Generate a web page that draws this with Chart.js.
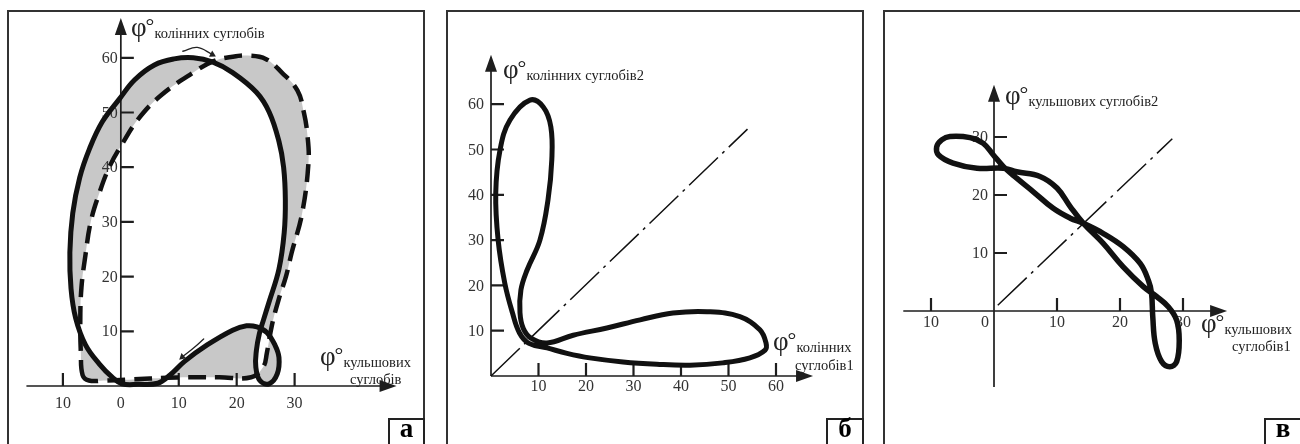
<!DOCTYPE html>
<html>
<head>
<meta charset="utf-8">
<script src="https://cdn.jsdelivr.net/npm/chart.js@4.4.1/dist/chart.umd.min.js"></script>
<style>
  html, body { margin: 0; padding: 0; background: #fff; }
  body { position: relative; width: 1300px; height: 444px; overflow: hidden; }
  canvas { position: absolute; top: 0; }
  .frame { position: absolute; top: 10px; height: 450px; box-sizing: border-box; border: 2px solid #333; }
  .ttl { position: absolute; font-family: "Liberation Serif", serif; color: #222; white-space: nowrap; line-height: 1; z-index: 2; }
  .phi { font-size: 27px; }
  .deg { font-size: 22px; position: relative; top: -3px; margin-left: -1px; }
  .sub { font-size: 14.5px; position: relative; top: 2px; }
  .letter { position: absolute; top: 418px; height: 34px; box-sizing: border-box; border: 2px solid #222; background: #fff;
            font-family: "Liberation Serif", serif; font-weight: bold; font-size: 27px; text-align: center; line-height: 17px; z-index: 3; }
</style>
</head>
<body>
<div class="frame" style="left:7px;width:418px"></div>
<div class="frame" style="left:446px;width:418px"></div>
<div class="frame" style="left:883px;width:419px"></div>

<canvas id="chartA" width="440" height="444" style="left:0"></canvas>
<canvas id="chartB" width="440" height="444" style="left:440px"></canvas>
<canvas id="chartC" width="430" height="444" style="left:870px"></canvas>

<div class="ttl" style="left:131px;top:14px"><span class="phi">φ</span><span class="deg">°</span><span class="sub">колінних суглобів</span></div>
<div class="ttl" style="left:320px;top:343px"><span class="phi">φ</span><span class="deg">°</span><span class="sub">кульшових</span></div>
<div class="ttl" style="left:350px;top:369px"><span class="sub">суглобів</span></div>

<div class="ttl" style="left:503px;top:56px"><span class="phi">φ</span><span class="deg">°</span><span class="sub">колінних суглобів2</span></div>
<div class="ttl" style="left:773px;top:328px"><span class="phi">φ</span><span class="deg">°</span><span class="sub">колінних</span></div>
<div class="ttl" style="left:795px;top:355px"><span class="sub">суглобів1</span></div>

<div class="ttl" style="left:1005px;top:82px"><span class="phi">φ</span><span class="deg">°</span><span class="sub">кульшових суглобів2</span></div>
<div class="ttl" style="left:1201px;top:310px"><span class="phi">φ</span><span class="deg">°</span><span class="sub">кульшових</span></div>
<div class="ttl" style="left:1232px;top:336px"><span class="sub">суглобів1</span></div>

<div class="letter" style="left:388px;width:37px">а</div>
<div class="letter" style="left:826px;width:38px">б</div>
<div class="letter" style="left:1264px;width:38px">в</div>

<script>
// --- панель а: кульшові (x) / колінні (y) суглоби
const solidAX = [0.2, 3, 6.4, 8.5, 11, 14.9, 19.3, 21.7, 23.5, 25.2, 26.6, 27.3, 27, 25.6, 24, 23.3, 23.4, 23.9, 24.6, 25.6, 27.3, 28.2, 28.4, 28.1, 27.3, 25.6, 23.4, 19.3, 15.9, 12.5, 9.2, 5.8, 2.4, -0.3, -3.2, -5.4, -7.1, -8.3, -8.8, -8.6, -7.8, -6.1, -3.7, -1.5];
const solidAY = [0.4, 0.3, 0.5, 2, 4.5, 7.5, 10.2, 11, 10.8, 9.8, 7.5, 5.2, 2.2, 0.4, 1, 3.5, 6.5, 9.5, 12, 15.4, 21.4, 28, 34, 40, 44.7, 50.1, 53.7, 57.3, 59.2, 60, 59.8, 58.7, 56, 52.4, 48.3, 43.4, 38.1, 31.6, 24.4, 17.8, 12.4, 7.5, 4, 1.6];
const dashedAX = [-6.6, -5.5, -3, 2, 8, 11.5, 17, 22.5, 24.6, 25.2, 26.1, 27.3, 28.5, 29.5, 31.3, 32.4, 32.2, 31.6, 30.5, 27.8, 25, 22, 19.3, 16, 12.5, 6.9, 3, 0.2, -2, -3.8, -5.2, -6.1, -6.8, -7, -6.9];
const dashedAY = [2, 1, 1, 1.2, 1.5, 1.6, 1.6, 1.6, 3.5, 6, 11.2, 16, 20, 24.4, 31.6, 41, 46, 50, 54, 57.3, 59.8, 60.4, 60.2, 59.4, 57.3, 53.1, 48.8, 44.2, 40, 35, 30, 24, 18, 12, 6];
const arrowTopX = [10.7, 13.2, 15.8];
const arrowTopY = [61.2, 61.9, 60.6];
const arrowLowX = [14.3, 12.5, 10.6];
const arrowLowY = [8.6, 6.9, 5.3];
const xLabelsA = [-10, 0, 10, 20, 30];
const xMarksA = [-10, 10, 20, 30];
const yLabelsA = [10, 20, 30, 40, 50, 60];

// --- панель б: колінні суглоби 1 / 2
const loopBX = [11.8, 16, 20.8, 27.8, 34.9, 41.9, 48.8, 54.5, 57.7, 57.9, 56.6, 52.4, 45.5, 38.3, 31.4, 24.4, 17.3, 11.8, 8.5, 6.8, 6.1, 6.3, 7.6, 10.3, 12, 12.8, 12.6, 11, 8.2, 4, 1.9, 1, 1.5, 2.9, 4.5, 6, 8];
const loopBY = [6.2, 5, 4, 3.1, 2.6, 2.4, 2.9, 4, 5.7, 7.3, 10.2, 13.1, 14.2, 13.9, 12.4, 10.6, 9, 7.3, 8.3, 10.5, 14, 19, 23.4, 30, 38.9, 47.7, 55, 59.4, 60.9, 56.5, 49.9, 40.4, 30, 20.5, 14, 9.5, 7.2];
const diagBX = [0, 54];
const diagBY = [0, 54.5];
const xLabelsB = [10, 20, 30, 40, 50, 60];
const yLabelsB = [10, 20, 30, 40, 50, 60];

// --- панель в: кульшові суглоби 1 / 2
const loopCX = [-7.0, -3.8, -1.7, -0.1, 1.5, 3.6, 6.2, 9.4, 12.1, 14.2, 17.3, 20.5, 23.2, 24.5, 25.0, 25.2, 25.6, 26.6, 27.9, 29.0, 29.4, 29.0, 27.7, 25.8, 23.7, 20.5, 17.3, 14.2, 12.1, 10.0, 7.3, 3.6, 1.5, -2.7, -6.5, -8.8, -9.1, -8.3];
const loopCY = [30.1, 29.9, 28.9, 26.9, 24.9, 22.9, 20.6, 17.7, 16.0, 15.1, 13.4, 11.1, 8.2, 5.3, 3.1, -1.0, -5.6, -8.7, -9.6, -8.7, -5.0, -1.6, 0.7, 2.5, 4.2, 7.6, 11.7, 15.1, 18.0, 21.2, 23.2, 24.0, 24.6, 24.6, 25.5, 26.9, 28.3, 29.5];
const diagCX = [0.6, 28.3];
const diagCY = [1.0, 29.7];
const xLabelsC = [-10, 0, 10, 20, 30];
const xMarksC = [-10, 10, 20, 30];
const yLabelsC = [10, 20, 30];

function pts(xs, ys) {
    return xs.map((x, i) => ({ x: x, y: ys[i] }));
}

// осі зі стрілками, засічки, підписи, та сіра смуга між двома замкненими кривими
const axesPlugin = {
    id: 'axesDraw',
    afterDatasetsUpdate(chart) {
        chart.data.datasets.forEach((ds, i) => {
            if (!ds.closed) return;
            const line = chart.getDatasetMeta(i).dataset;
            line._loop = true;
            line._fullLoop = true;
            line._pointsUpdated = false;
            line._segments = undefined;
            line._path = undefined;
        });
    },
    beforeDatasetsDraw(chart, args, opts) {
        const ctx = chart.ctx;
        const X = v => chart.scales.x.getPixelForValue(v);
        const Y = v => chart.scales.y.getPixelForValue(v);

        if (opts.band) {
            const off = document.createElement('canvas');
            off.width = chart.canvas.width;
            off.height = chart.canvas.height;
            const o = off.getContext('2d');
            o.setTransform(ctx.getTransform());
            o.fillStyle = opts.band.color;
            opts.band.sets.forEach((idx, k) => {
                const line = chart.getDatasetMeta(idx).dataset;
                line.updateControlPoints(chart.chartArea, 'x');
                o.globalCompositeOperation = k ? 'xor' : 'source-over';
                o.beginPath();
                line.path(o);
                o.closePath();
                o.fill();
            });
            ctx.save();
            ctx.setTransform(1, 0, 0, 1, 0, 0);
            ctx.drawImage(off, 0, 0);
            ctx.restore();
        }

        const x0 = X(0), y0 = Y(0);
        const xa = X(opts.xSpan[0]), xb = X(opts.xSpan[1]);
        const ya = Y(opts.ySpan[0]), yb = Y(opts.ySpan[1]);
        ctx.save();
        ctx.strokeStyle = '#1e1e1e';
        ctx.fillStyle = '#1e1e1e';
        ctx.lineWidth = 1.7;
        ctx.beginPath();
        ctx.moveTo(xa, y0); ctx.lineTo(xb - 12, y0);
        ctx.moveTo(x0, ya); ctx.lineTo(x0, yb + 12);
        ctx.stroke();
        // стрілки
        ctx.beginPath();
        ctx.moveTo(xb, y0); ctx.lineTo(xb - 17, y0 - 6); ctx.lineTo(xb - 17, y0 + 6); ctx.closePath();
        ctx.moveTo(x0, yb); ctx.lineTo(x0 - 6, yb + 17); ctx.lineTo(x0 + 6, yb + 17); ctx.closePath();
        ctx.fill();
        // засічки
        ctx.lineWidth = 2.2;
        ctx.beginPath();
        opts.xMarks.forEach(v => { ctx.moveTo(X(v), y0); ctx.lineTo(X(v), y0 - 13); });
        opts.yMarks.forEach(v => { ctx.moveTo(x0, Y(v)); ctx.lineTo(x0 + 13, Y(v)); });
        ctx.stroke();
        // підписи
        ctx.fillStyle = '#333';
        ctx.font = '16px "Liberation Serif", serif';
        ctx.textBaseline = 'middle';
        opts.xLabels.forEach(v => {
            if (v === 0 && opts.zeroLeft) {
                ctx.textAlign = 'right';
                ctx.fillText('0', x0 - 5, y0 + opts.xLabelDy);
            } else {
                ctx.textAlign = 'center';
                ctx.fillText(String(Math.abs(v)), X(v), y0 + opts.xLabelDy);
            }
        });
        ctx.textAlign = 'right';
        opts.yLabels.forEach(v => ctx.fillText(String(v), x0 - opts.yLabelGap, Y(v) + 1));
        ctx.restore();
    }
};

function makeChart(id, panel, datasets, axes) {
    // межі шкал так, щоб початок координат стояв на (ox, oy) пікселях
    const xMin = -panel.ox / panel.sx, xMax = (panel.w - panel.ox) / panel.sx;
    const yMin = -(panel.h - panel.oy) / panel.sy, yMax = panel.oy / panel.sy;
    return new Chart(document.getElementById(id), {
        type: 'line',
        data: { datasets: datasets },
        options: {
            responsive: false,
            animation: false,
            events: [],
            layout: { padding: 0 },
            elements: { point: { radius: 0 }, line: { borderColor: '#111', borderCapStyle: 'round', borderJoinStyle: 'round' } },
            plugins: { legend: { display: false }, tooltip: { enabled: false }, axesDraw: axes },
            scales: {
                x: { type: 'linear', display: false, min: xMin, max: xMax },
                y: { type: 'linear', display: false, min: yMin, max: yMax }
            }
        },
        plugins: [axesPlugin]
    });
}

function arrowSet(xs, ys, rot) {
    return {
        data: pts(xs, ys), borderWidth: 1.3, tension: 0.4, borderColor: '#222',
        pointRadius: [0, 0, 4], pointStyle: 'triangle', pointRotation: [0, 0, rot],
        pointBackgroundColor: '#222', pointBorderWidth: 0
    };
}

makeChart('chartA', { w: 440, h: 444, ox: 119, oy: 389, sx: 5.9, sy: 5.57 }, [
    arrowSet(arrowTopX, arrowTopY, 118),
    arrowSet(arrowLowX, arrowLowY, 229),
    { data: pts(solidAX, solidAY), closed: true, borderWidth: 5, tension: 0.4 },
    { data: pts(dashedAX, dashedAY), closed: true, borderWidth: 4.5, borderDash: [18, 9], borderCapStyle: 'butt', tension: 0.4 }
], {
    band: { color: '#c8c8c8', sets: [3, 2] },
    xSpan: [-16.3, 47.6], ySpan: [0, 67.3],
    xMarks: xMarksA, yMarks: yLabelsA, xLabels: xLabelsA, yLabels: yLabelsA,
    xLabelDy: 18, yLabelGap: 3, zeroLeft: false
});

makeChart('chartB', { w: 440, h: 444, ox: 51, oy: 376, sx: 4.75, sy: 4.53 }, [
    { data: pts(loopBX, loopBY), closed: true, borderWidth: 5, tension: 0.4 },
    { data: pts(diagBX, diagBY), borderWidth: 1.5, borderDash: [40, 6, 3, 6], borderCapStyle: 'butt' }
], {
    xSpan: [0, 67.8], ySpan: [0, 70.9],
    xMarks: xLabelsB, yMarks: yLabelsB, xLabels: xLabelsB, yLabels: yLabelsB,
    xLabelDy: 11, yLabelGap: 7, zeroLeft: false
});

makeChart('chartC', { w: 430, h: 444, ox: 124, oy: 311, sx: 6.3, sy: 5.8 }, [
    { data: pts(loopCX, loopCY), closed: true, borderWidth: 5.5, tension: 0.4 },
    { data: pts(diagCX, diagCY), borderWidth: 1.5, borderDash: [40, 6, 3, 6], borderCapStyle: 'butt' }
], {
    xSpan: [-14.4, 37], ySpan: [-13.1, 39],
    xMarks: xMarksC, yMarks: yLabelsC, xLabels: xLabelsC, yLabels: yLabelsC,
    xLabelDy: 12, yLabelGap: 6, zeroLeft: true
});
</script>
</body>
</html>
